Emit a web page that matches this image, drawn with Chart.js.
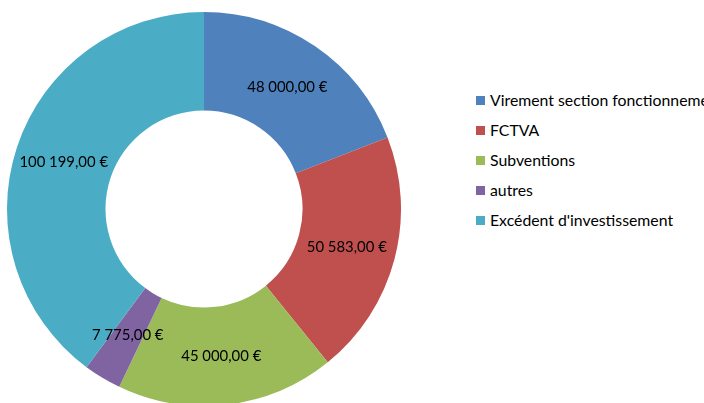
<!DOCTYPE html>
<html><head><meta charset="utf-8">
<script src="https://cdn.jsdelivr.net/npm/chart.js@4"></script>
<style>
html,body{margin:0;padding:0;width:704px;height:403px;overflow:hidden;background:#fff;position:relative;font-family:Lato,"Liberation Sans",sans-serif;}
#wrap{position:absolute;left:7px;top:12px;width:394px;height:394px;}
#legend{position:absolute;left:476px;top:0;white-space:nowrap;}
.item{position:absolute;left:0;height:16px;line-height:16px;font-size:15.8px;color:#000;}
.sw{position:absolute;left:0;top:4px;width:9px;height:9px;}
.tx{position:absolute;left:14px;top:0;}
</style></head><body>
<div id="wrap"><canvas id="c"></canvas></div>
<div id="legend"></div>
<script>
const categories = ["Virement section fonctionnement", "FCTVA", "Subventions", "autres", "Excédent d'investissement"];
const values = [48000, 50583, 45000, 7775, 100199];
const colors = ["#4F81BD", "#C0504D", "#9BBB59", "#8064A2", "#4BACC6"];

function fmt(v){
  const parts = v.toFixed(2).split(".");
  const intPart = parts[0].replace(/\B(?=(\d{3})+(?!\d))/g, "\u202F");
  return intPart + "," + parts[1] + " €";
}

const labelPlugin = {
  id: 'arcLabels',
  afterDatasetsDraw(chart){
    const ctx = chart.ctx;
    const meta = chart.getDatasetMeta(0);
    ctx.save();
    ctx.font = '14.9px Lato, "Liberation Sans", sans-serif';
    ctx.fillStyle = '#000';
    ctx.textAlign = 'center';
    ctx.textBaseline = 'middle';
    meta.data.forEach((arc, i) => {
      const p = arc.getCenterPoint();
      ctx.fillText(fmt(values[i]), p.x, p.y);
    });
    ctx.restore();
  }
};

new Chart(document.getElementById('c'), {
  type: 'doughnut',
  data: { labels: categories, datasets: [{ data: values, backgroundColor: colors, borderWidth: 0 }] },
  options: {
    responsive: true, maintainAspectRatio: false, animation: false,
    cutout: '50%',
    layout: { padding: 0 },
    plugins: { legend: { display: false }, tooltip: { enabled: false } }
  },
  plugins: [labelPlugin]
});

const lg = document.getElementById('legend');
categories.forEach((c, i) => {
  const d = document.createElement('div');
  d.className = 'item';
  d.style.top = (92 + i * 30) + 'px';
  d.innerHTML = '<span class="sw" style="background:' + colors[i] + '"></span><span class="tx"></span>';
  d.querySelector('.tx').textContent = c;
  lg.appendChild(d);
});
</script>
</body></html>
